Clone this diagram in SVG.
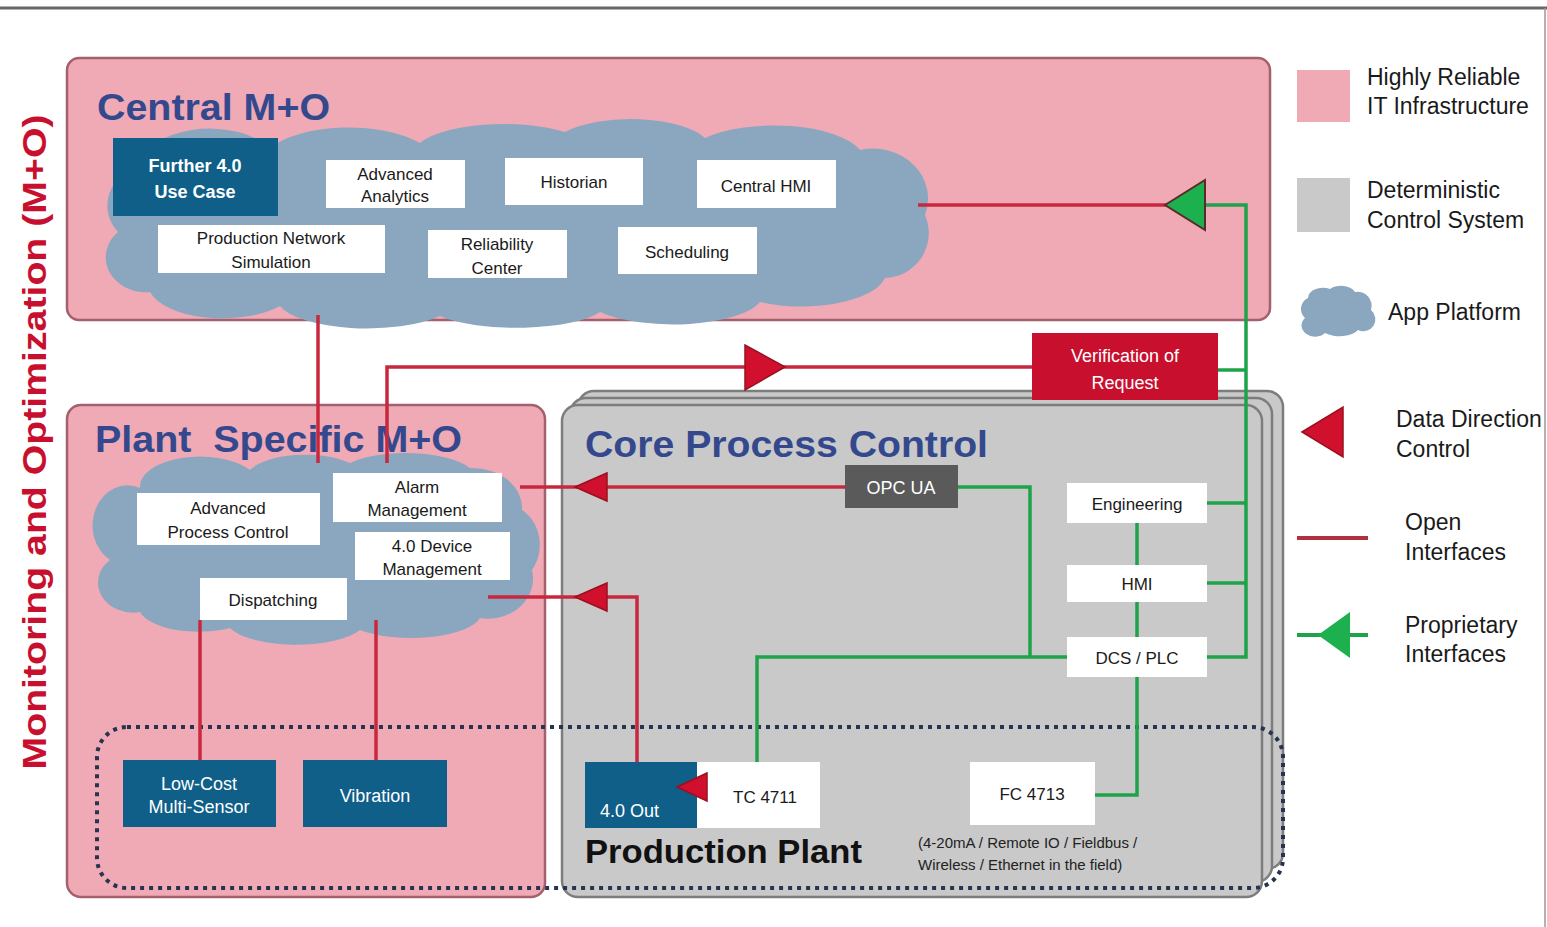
<svg xmlns="http://www.w3.org/2000/svg" width="1547" height="927" viewBox="0 0 1547 927">
<style>
text{font-family:"Liberation Sans",Arial,sans-serif;}
.pink{fill:#efaab5;stroke:#a4606c;stroke-width:2.5;}
.gray{fill:#c9c9c9;stroke:#7d7d7d;stroke-width:2.5;}
.cloud{fill:#8ba7c0;}
.wbox{fill:#ffffff;}
.dbox{fill:#0f5f88;}
.title{font-weight:bold;fill:#34488e;}
.nt{font-size:17px;fill:#1a1a1a;text-anchor:middle;}
.wt{font-size:18px;fill:#ffffff;text-anchor:middle;}
.red{fill:none;stroke:#c8283e;stroke-width:3.5;}
.grn{fill:none;stroke:#1fa34a;stroke-width:3.5;}
.rarr{fill:#d0102c;stroke:#9a1020;stroke-width:1.5;}
.garr{fill:#1db04f;stroke:#5a2a2a;stroke-width:2;}
.leg{font-size:23px;fill:#1a1a1a;}
</style>
<!-- frame -->
<line x1="0" y1="8" x2="1547" y2="8" stroke="#666" stroke-width="3"/>
<line x1="1545" y1="8" x2="1545" y2="927" stroke="#999" stroke-width="1.5"/>

<!-- vertical label -->
<text transform="translate(46,442) rotate(-90)" font-size="33" font-weight="bold" fill="#c8102e" text-anchor="middle" textLength="655" lengthAdjust="spacingAndGlyphs">Monitoring and Optimization (M+O)</text>

<!-- containers -->
<g id="central-mo">
<rect class="pink" x="67" y="58" width="1203" height="262" rx="12"/>
<text class="title" x="97" y="120" font-size="36" textLength="233" lengthAdjust="spacingAndGlyphs">Central M+O</text>
</g>
<g id="plant-mo">
<rect class="pink" x="67" y="405" width="478" height="492" rx="14"/>
<text class="title" x="95" y="452" font-size="36" xml:space="preserve" textLength="367" lengthAdjust="spacingAndGlyphs">Plant  Specific M+O</text>
</g>
<g id="core-process-control">
<rect class="gray" x="578" y="391" width="705" height="478" rx="16"/>
<rect class="gray" x="570" y="398" width="702" height="484" rx="16"/>
<rect class="gray" x="562" y="405" width="700" height="492" rx="16"/>
<text class="title" x="585" y="457" font-size="37" fill="#2f4f8f" textLength="403" lengthAdjust="spacingAndGlyphs">Core Process Control</text>
</g>
<g id="production-plant">
<rect x="97" y="727" width="1186" height="161" rx="30" fill="none" stroke="#26344f" stroke-width="4" stroke-dasharray="4 5"/>
<text x="585" y="863" font-size="33" font-weight="bold" fill="#111" textLength="277" lengthAdjust="spacingAndGlyphs">Production Plant</text>
<text x="918" y="848" font-size="15" fill="#222">(4-20mA / Remote IO / Fieldbus /</text>
<text x="918" y="870" font-size="15" fill="#222">Wireless / Ethernet in the field)</text>
</g>

<!-- clouds -->
<g id="central-cloud">
<path class="cloud" d="M118,232 A38,38 0 0 1 140,168 A70,40 0 0 1 270,148 A90,40 0 0 1 420,143 A90,30 0 0 1 565,132 A80,30 0 0 1 705,138 A90,35 0 0 1 860,150 A55,50 0 0 1 925,215 A45,45 0 0 1 885,278 A85,35 0 0 1 760,302 A90,30 0 0 1 600,312 A90,25 0 0 1 440,316 A90,30 0 0 1 280,306 A75,35 0 0 1 150,292 A40,35 0 0 1 118,232 Z"/>
</g>
<g id="plant-cloud">
<path class="cloud" d="M110,560 A35,40 0 0 1 140,488 A60,30 0 0 1 250,470 A60,25 0 0 1 350,463 A70,25 0 0 1 470,468 A50,40 0 0 1 522,510 A35,40 0 0 1 532,570 A45,40 0 0 1 480,618 A70,25 0 0 1 360,630 A70,25 0 0 1 230,628 A60,25 0 0 1 140,612 A35,30 0 0 1 110,560 Z"/>
</g>

<!-- connectors -->
<g id="connectors">
<path class="red" d="M918,205 H1168"/>
<path class="grn" d="M1205,205 H1246 V657 H1207"/>
<path class="grn" d="M1218,370 H1246"/>
<path class="grn" d="M1207,503 H1246"/>
<path class="grn" d="M1207,583 H1246"/>
<path class="red" d="M318,315 V463"/>
<path class="red" d="M387,463 V367 H1032"/>
<path class="red" d="M845,487 H520"/>
<path class="grn" d="M958,487 H1030 V657"/>
<path class="grn" d="M1067,657 H757 V762"/>
<path class="grn" d="M1137,523 V795 H1095"/>
<path class="red" d="M680,787 H637 V597 H488"/>
<path class="red" d="M200,620 V760"/>
<path class="red" d="M376,620 V760"/>
<polygon class="garr" points="1165,205 1205,180 1205,230"/>
<polygon class="rarr" points="785,367 745,345 745,390"/>
<polygon class="rarr" points="575,487 607,473 607,501"/>
<polygon class="rarr" points="575,597 607,583 607,611"/>
</g>

<!-- central nodes -->
<g id="further-use-case"><rect class="dbox" x="113" y="138" width="165" height="78"/><text class="wt" x="195" y="172" font-weight="bold" font-size="20">Further 4.0</text><text class="wt" x="195" y="198" font-weight="bold" font-size="20">Use Case</text></g>
<g id="advanced-analytics"><rect class="wbox" x="326" y="160" width="139" height="48"/><text class="nt" x="395" y="180">Advanced</text><text class="nt" x="395" y="202">Analytics</text></g>
<g id="historian"><rect class="wbox" x="505" y="158" width="138" height="47"/><text class="nt" x="574" y="188" font-size="18">Historian</text></g>
<g id="central-hmi"><rect class="wbox" x="697" y="160" width="139" height="48"/><text class="nt" x="766" y="192">Central HMI</text></g>
<g id="prod-net-sim"><rect class="wbox" x="158" y="225" width="227" height="48"/><text class="nt" x="271" y="244">Production Network</text><text class="nt" x="271" y="268">Simulation</text></g>
<g id="reliability-center"><rect class="wbox" x="428" y="230" width="139" height="48"/><text class="nt" x="497" y="250">Reliability</text><text class="nt" x="497" y="274">Center</text></g>
<g id="scheduling"><rect class="wbox" x="618" y="227" width="139" height="47"/><text class="nt" x="687" y="258" font-size="18">Scheduling</text></g>

<!-- verification -->
<g id="verification"><rect x="1032" y="333" width="186" height="67" fill="#c8102e"/><text class="wt" x="1125" y="362" font-size="19">Verification of</text><text class="wt" x="1125" y="389" font-size="19">Request</text></g>

<!-- plant nodes -->
<g id="apc"><rect class="wbox" x="137" y="493" width="183" height="52"/><text class="nt" x="228" y="514">Advanced</text><text class="nt" x="228" y="538">Process Control</text></g>
<g id="alarm-mgmt"><rect class="wbox" x="333" y="473" width="169" height="49"/><text class="nt" x="417" y="493">Alarm</text><text class="nt" x="417" y="516">Management</text></g>
<g id="device-mgmt"><rect class="wbox" x="355" y="532" width="155" height="48"/><text class="nt" x="432" y="552">4.0 Device</text><text class="nt" x="432" y="575">Management</text></g>
<g id="dispatching"><rect class="wbox" x="200" y="578" width="147" height="42"/><text class="nt" x="273" y="606" font-size="18">Dispatching</text></g>
<g id="low-cost"><rect class="dbox" x="123" y="760" width="153" height="67"/><text class="wt" x="199" y="790" font-size="17">Low-Cost</text><text class="wt" x="199" y="813" font-size="17">Multi-Sensor</text></g>
<g id="vibration"><rect class="dbox" x="303" y="760" width="144" height="67"/><text class="wt" x="375" y="802">Vibration</text></g>

<!-- core nodes -->
<g id="opc-ua"><rect x="845" y="465" width="113" height="43" fill="#5a5a5a"/><text class="wt" x="901" y="494">OPC UA</text></g>
<g id="engineering"><rect class="wbox" x="1067" y="483" width="140" height="40"/><text class="nt" x="1137" y="510" font-size="18">Engineering</text></g>
<g id="hmi"><rect class="wbox" x="1067" y="565" width="140" height="37"/><text class="nt" x="1137" y="590">HMI</text></g>
<g id="dcs-plc"><rect class="wbox" x="1067" y="637" width="140" height="40"/><text class="nt" x="1137" y="664">DCS / PLC</text></g>
<g id="out40"><rect class="dbox" x="585" y="762" width="112" height="66"/><text x="600" y="817" font-size="18" fill="#fff">4.0 Out</text></g>
<g id="tc4711"><rect class="wbox" x="697" y="762" width="123" height="66"/><text class="nt" x="765" y="803" font-size="18">TC 4711</text></g>
<g id="fc4713"><rect class="wbox" x="970" y="762" width="125" height="63"/><text class="nt" x="1032" y="800" font-size="18">FC 4713</text></g>
<polygon class="rarr" points="677,787 707,773 707,801"/>

<!-- legend -->
<g id="legend">
<rect x="1297" y="70" width="53" height="52" fill="#efaab5"/>
<text class="leg" x="1367" y="85">Highly Reliable</text>
<text class="leg" x="1367" y="114">IT Infrastructure</text>
<rect x="1297" y="178" width="53" height="54" fill="#c9c9c9"/>
<text class="leg" x="1367" y="198">Deterministic</text>
<text class="leg" x="1367" y="228">Control System</text>
<path class="cloud" d="M1305,318 A12,12 0 0 1 1308,298 A15,10 0 0 1 1330,289 A15,10 0 0 1 1355,292 A14,14 0 0 1 1371,310 A12,12 0 0 1 1358,330 A20,10 0 0 1 1325,333 A12,10 0 0 1 1305,318 Z"/>
<text class="leg" x="1388" y="320">App Platform</text>
<polygon class="rarr" points="1302,432 1343,407 1343,457"/>
<text class="leg" x="1396" y="427">Data Direction</text>
<text class="leg" x="1396" y="457">Control</text>
<line x1="1297" y1="538" x2="1368" y2="538" stroke="#b03040" stroke-width="4"/>
<text class="leg" x="1405" y="530">Open</text>
<text class="leg" x="1405" y="560">Interfaces</text>
<line x1="1297" y1="635" x2="1368" y2="635" stroke="#1fa34a" stroke-width="4"/>
<polygon points="1318,635 1350,612 1350,658" fill="#1db04f"/>
<text class="leg" x="1405" y="633">Proprietary</text>
<text class="leg" x="1405" y="662">Interfaces</text>
</g>
</svg>
